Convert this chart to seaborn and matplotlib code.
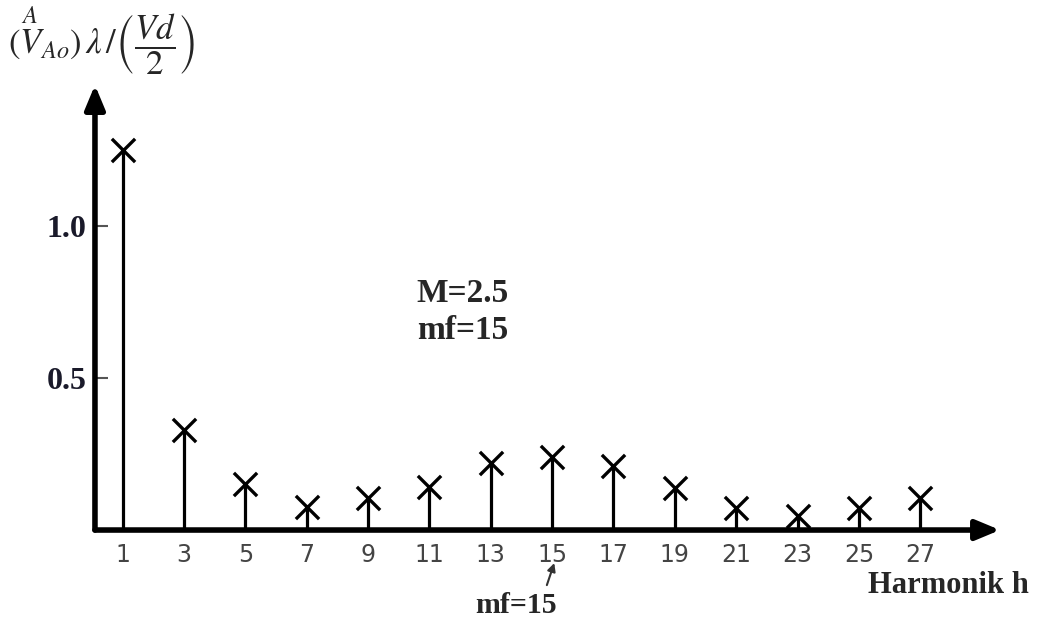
# Harmonic spectrum of the inverter output (M=2.5, mf=15)
import numpy as np
import pandas as pd
import matplotlib
matplotlib.use('Agg')
import matplotlib.pyplot as plt
import seaborn as sns

# Data
harmonics = [1, 3, 5, 7, 9, 11, 13, 15, 17, 19, 21, 23, 25, 27]
amplitude = [1.25, 0.33, 0.15, 0.076, 0.105, 0.14, 0.22, 0.24, 0.21, 0.138, 0.072, 0.046, 0.072, 0.105]
y_ticks = [0.5, 1.0]
y_tick_labels = ['0.5', '1.0']

df = pd.DataFrame({'h': harmonics, 'amp': amplitude})

sns.set_theme(style='white')
plt.rcParams['font.family'] = ['Liberation Serif', 'DejaVu Serif']
plt.rcParams['mathtext.fontset'] = 'stix'

fig = plt.figure(figsize=(10.39, 6.24), dpi=100)
ax = fig.add_axes([0.0914, 0.1506, 0.8711, 0.7132])

# stems + x markers
ax.vlines(df['h'], 0, df['amp'], color='black', lw=2.3, zorder=2)
sns.scatterplot(data=df, x='h', y='amp', marker='x', s=280, color='black',
                linewidth=2.4, ax=ax, zorder=3, legend=False)

ax.set_xlim(0.1, 29.6)
ax.set_ylim(0, 1.465)

for s in ax.spines.values():
    s.set_visible(False)

# axes drawn as arrows
ax.annotate('', xy=(1.0, 0), xytext=(0, 0), xycoords='axes fraction',
            arrowprops=dict(arrowstyle='-|>,head_length=1.2,head_width=0.5', lw=4, color='black',
                            shrinkA=0, shrinkB=0), clip_on=False)
ax.annotate('', xy=(0, 1.0), xytext=(0, 0), xycoords='axes fraction',
            arrowprops=dict(arrowstyle='-|>,head_length=1.2,head_width=0.5', lw=4, color='black',
                            shrinkA=0, shrinkB=0), clip_on=False)

ax.set_xticks(harmonics)
ax.set_xticklabels([str(h) for h in harmonics], fontsize=17, color='#444444',
                   family=['Liberation Sans Narrow', 'DejaVu Sans'])
ax.tick_params(axis='x', bottom=False, length=0, pad=9)
ax.set_yticks(y_ticks)
ax.set_yticklabels(y_tick_labels, fontsize=23, fontweight='bold', color='#1a1a2a')
ax.tick_params(axis='y', left=True, direction='in', length=9, width=1.5,
               color='#555555', pad=6)
ax.set_xlabel('')
ax.set_ylabel('')

# annotations
fig.text(0.401, 0.530, 'M=2.5', fontsize=24, fontweight='bold', va='center')
fig.text(0.401, 0.471, 'mf=15', fontsize=24, fontweight='bold', va='center')
fig.text(0.457, 0.030, 'mf=15', fontsize=21.5, fontweight='bold', va='center')
fig.text(0.835, 0.062, 'Harmonik h', fontsize=22, fontweight='bold', va='center')
ax.annotate('', xy=(15.1, -0.10), xytext=(14.8, -0.19), xycoords='data',
            arrowprops=dict(arrowstyle='-|>', lw=1.5, color='#333333'),
            annotation_clip=False)

fig.text(0.008, 0.935,
         r'$(\overset{A}{V}_{Ao})\,\lambda\,/\left(\dfrac{Vd}{2}\right)$',
         fontsize=25, va='center', ha='left')

fig.savefig('out.png', dpi=100, facecolor='white')
